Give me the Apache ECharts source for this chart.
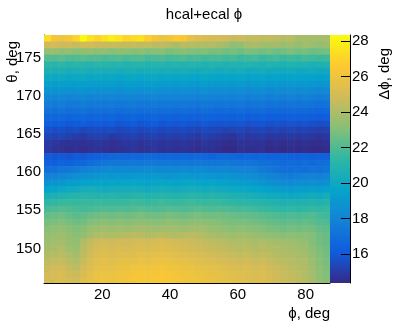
<!DOCTYPE html>
<html>
<head>
<meta charset="utf-8">
<script src="https://cdn.jsdelivr.net/npm/echarts@6/dist/echarts.min.js"></script>
<style>
html,body{margin:0;padding:0;background:#fff;}
#c{width:396px;height:322px;}
</style>
</head>
<body>
<div id="c"></div>
<script>
// ---- data ----
const chartTitle = 'hcal+ecal ϕ';
const xTitle = 'ϕ, deg';
const yTitle = 'θ, deg';
const zTitle = 'Δϕ, deg';
const phiMin = 2.8125, phiMax = 87.1875, phiBins = 40;
const thetaTop = 178.0, thetaStep = 0.8611, thetaMin = 145.46;
const zMin = 14.37, zMax = 28.34;
const xMajorTicks = [20, 40, 60, 80];
const xMinorTicks = [5, 10, 15, 25, 30, 35, 45, 50, 55, 65, 70, 75, 85];
const yMajorTicks = [150, 155, 160, 165, 170, 175];
const yMinorTicks = [146,147,148,149,151,152,153,154,156,157,158,159,161,162,163,164,166,167,168,169,171,172,173,174,176,177];
const zTicks = [16, 18, 20, 22, 24, 26, 28];
// rows of delta-phi values, from the top theta row (178) downwards; 40 phi bins each
const deltaPhi = [
[27.3,26.2,26.0,26.3,27.0,28.3,27.4,27.0,27.5,27.9,27.6,27.0,27.2,27.4,26.8,26.2,25.9,26.0,26.6,26.4,25.6,25.3,25.1,25.0,25.0,24.8,24.6,24.7,24.5,24.6,24.4,24.5,24.3,24.2,24.3,23.9,23.8,23.9,23.8,23.9],
[24.8,24.9,24.7,24.8,24.6,24.9,24.8,24.7,24.6,24.7,24.6,24.5,24.6,24.4,24.5,24.3,24.4,24.2,23.9,24.3,24.2,24.1,24.0,24.1,23.9,23.7,23.3,23.4,23.8,23.9,23.7,23.6,23.8,23.5,23.6,23.4,23.7,23.5,23.4,23.5],
[23.4,23.5,23.3,23.4,23.2,23.3,23.4,23.2,23.3,23.1,23.2,23.3,23.1,23.2,23.0,23.1,23.2,22.9,23.0,23.1,23.0,22.9,23.0,22.8,22.9,22.7,22.8,22.6,22.9,22.8,22.7,22.8,22.6,22.7,22.9,22.7,22.8,22.6,22.7,22.8],
[22.2,22.1,22.3,22.0,22.1,22.2,22.0,22.1,21.9,22.0,22.1,21.9,22.0,22.1,21.8,21.9,22.0,21.8,21.9,22.0,21.8,21.9,21.7,21.8,21.9,21.7,21.8,21.6,21.7,21.8,21.6,21.7,21.8,21.6,21.7,21.6,21.8,21.7,21.6,21.7],
[21.2,21.1,21.3,21.0,21.2,21.1,21.0,21.2,21.1,21.0,21.1,20.9,21.0,21.1,20.9,21.0,21.1,20.9,21.0,20.9,21.0,20.9,20.8,21.0,20.9,20.8,20.9,20.8,20.9,20.8,20.7,20.9,20.8,20.7,20.8,20.7,20.8,20.6,20.7,20.8],
[20.6,20.5,20.6,20.4,20.5,20.6,20.4,20.5,20.4,20.5,20.3,20.4,20.5,20.3,20.4,20.5,20.3,20.4,20.3,20.4,20.3,20.2,20.4,20.3,20.2,20.3,20.2,20.3,20.1,20.2,20.3,20.1,20.2,20.1,20.2,20.0,20.1,20.2,20.0,20.1],
[20.0,19.9,20.0,19.8,19.9,20.0,19.8,19.9,19.8,19.9,19.7,19.8,19.9,19.7,19.8,19.9,19.7,19.8,19.7,19.8,19.7,19.6,19.8,19.7,19.6,19.7,19.6,19.7,19.5,19.6,19.7,19.5,19.6,19.5,19.6,19.5,19.6,19.5,19.4,19.5],
[19.4,19.3,19.4,19.2,19.3,19.4,19.2,19.3,19.2,19.3,19.1,19.2,19.3,19.1,19.2,19.3,19.1,19.2,19.1,19.2,19.1,19.0,19.2,19.1,19.0,19.1,19.0,19.1,18.9,19.0,19.1,18.9,19.0,18.9,19.0,18.9,19.0,18.9,18.8,18.9],
[18.8,18.7,18.8,18.6,18.7,18.8,18.6,18.7,18.6,18.7,18.5,18.6,18.7,18.5,18.6,18.7,18.5,18.6,18.5,18.6,18.5,18.4,18.6,18.5,18.4,18.5,18.4,18.5,18.3,18.4,18.5,18.3,18.4,18.3,18.4,18.3,18.4,18.3,18.2,18.3],
[18.2,18.1,18.2,18.0,18.1,18.2,18.0,18.1,18.0,18.1,17.9,18.0,18.1,17.9,18.0,18.1,17.9,18.0,17.9,18.0,17.9,17.8,18.0,17.9,17.8,17.9,17.8,17.9,17.7,17.8,17.9,17.7,17.8,17.7,17.8,17.7,17.8,17.7,17.6,17.7],
[17.7,17.6,17.7,17.5,17.6,17.7,17.5,17.6,17.5,17.6,17.4,17.5,17.6,17.4,17.5,17.6,17.4,17.5,17.4,17.5,17.4,17.3,17.5,17.4,17.3,17.4,17.3,17.4,17.2,17.3,17.4,17.2,17.3,17.2,17.3,17.2,17.3,17.2,17.1,17.2],
[17.2,17.1,17.2,17.0,17.1,17.2,17.0,17.1,17.0,17.1,16.9,17.0,17.1,16.9,17.0,17.1,16.9,17.0,16.9,17.0,16.9,16.8,17.0,16.9,16.8,16.9,16.8,16.9,16.7,16.8,16.9,16.7,16.8,16.7,16.8,16.7,16.8,16.7,16.6,16.7],
[16.7,16.6,16.7,16.5,16.6,16.7,16.5,16.6,16.5,16.6,16.4,16.5,16.6,16.4,16.5,16.6,16.4,16.5,16.4,16.5,16.4,16.3,16.5,16.4,16.3,16.4,16.3,16.4,16.2,16.3,16.4,16.2,16.3,16.2,16.3,16.2,16.3,16.2,16.1,16.2],
[16.2,16.1,16.2,16.0,16.1,16.2,16.0,16.1,16.0,16.1,15.9,16.0,16.1,15.9,16.0,16.1,15.9,16.0,15.9,16.0,15.9,15.8,16.0,15.9,15.8,15.9,15.8,15.9,15.7,15.8,15.9,15.7,15.8,15.7,15.8,15.7,15.8,15.7,15.6,15.7],
[15.7,15.6,15.7,15.5,15.6,15.4,15.5,15.6,15.5,15.6,15.4,15.5,15.6,15.4,15.5,15.6,15.4,15.5,15.4,15.5,15.4,15.3,15.5,15.4,15.3,15.2,15.3,15.4,15.2,15.3,15.4,15.2,15.3,15.2,15.3,15.2,15.3,15.2,15.1,15.2],
[15.3,15.2,15.3,15.1,15.0,14.9,15.1,15.2,15.1,14.9,15.0,15.1,15.2,15.0,15.1,15.2,15.0,15.1,15.0,15.1,15.0,14.9,15.1,15.0,14.9,14.8,14.7,15.0,14.8,14.9,15.0,14.8,14.9,14.8,14.9,14.8,14.9,14.8,14.7,14.8],
[14.9,14.8,14.7,14.6,14.7,14.6,14.7,14.8,14.7,14.6,14.7,14.8,14.9,14.7,14.8,14.9,14.7,14.8,14.7,14.8,14.7,14.6,14.8,14.7,14.6,14.5,14.5,14.7,14.6,14.6,14.7,14.5,14.6,14.5,14.6,14.5,14.6,14.5,14.5,14.6],
[14.8,14.7,14.6,14.5,14.6,14.5,14.6,14.7,14.6,14.5,14.6,14.7,14.8,14.6,14.7,14.8,14.6,14.7,14.6,14.7,14.6,14.5,14.7,14.6,14.5,14.4,14.4,14.6,14.5,14.5,14.6,14.4,14.5,14.4,14.5,14.4,14.5,14.4,14.4,14.5],
[16.0,15.9,16.0,15.9,16.1,16.0,16.2,16.3,16.5,16.6,16.7,16.6,16.7,16.6,16.8,16.7,16.6,16.7,16.6,16.7,16.6,16.7,16.6,16.5,16.6,16.7,16.6,16.5,16.6,16.5,16.6,16.5,16.4,16.5,16.4,16.3,16.4,16.3,16.4,16.3],
[16.4,16.3,16.5,16.4,16.6,16.7,16.9,17.1,17.3,17.4,17.5,17.4,17.5,17.4,17.6,17.5,17.4,17.5,17.4,17.5,17.4,17.5,17.4,17.3,17.4,17.5,17.3,17.2,17.3,17.2,17.1,17.0,16.9,16.8,16.9,16.8,16.9,16.8,16.9,17.0],
[17.0,17.1,17.3,17.4,17.6,17.8,18.0,18.1,18.2,18.3,18.2,18.3,18.2,18.3,18.4,18.3,18.2,18.3,18.2,18.3,18.2,18.3,18.2,18.1,18.2,18.1,18.0,17.9,17.9,17.8,17.6,17.4,17.2,17.1,17.0,17.1,17.0,17.2,17.1,17.3],
[17.8,17.9,18.1,18.3,18.5,18.7,18.8,18.9,19.0,18.9,19.0,18.9,19.0,19.1,19.0,19.1,19.0,18.9,19.0,19.1,19.0,18.9,19.0,18.9,18.8,18.9,18.7,18.6,18.5,18.4,18.2,18.0,17.8,17.7,17.6,17.7,17.8,17.9,17.8,18.0],
[18.7,18.8,19.0,19.2,19.3,19.5,19.6,19.7,19.6,19.7,19.6,19.7,19.8,19.7,19.6,19.7,19.8,19.7,19.6,19.7,19.8,19.7,19.6,19.7,19.6,19.5,19.4,19.3,19.2,19.1,18.9,18.7,18.5,18.4,18.3,18.4,18.5,18.6,18.5,18.7],
[19.6,19.7,19.9,20.1,20.2,20.3,20.4,20.3,20.2,20.3,20.4,20.3,20.4,20.3,20.2,20.3,20.4,20.3,20.2,20.3,20.4,20.3,20.2,20.3,20.2,20.1,20.0,19.9,19.8,19.7,19.6,19.5,19.3,19.2,19.1,19.2,19.3,19.4,19.3,19.5],
[20.5,20.6,20.8,20.9,21.0,21.1,21.0,20.9,21.0,21.1,21.0,20.9,21.0,21.1,20.9,21.0,21.1,21.0,20.9,21.0,21.1,21.0,20.9,21.0,20.9,20.8,20.7,20.6,20.5,20.4,20.3,20.2,20.1,20.0,19.9,20.0,20.1,20.2,20.1,20.3],
[21.3,21.4,21.5,21.6,21.5,21.6,21.5,21.6,21.5,21.6,21.5,21.6,21.7,21.6,21.5,21.6,21.7,21.6,21.5,21.6,21.7,21.6,21.5,21.6,21.5,21.4,21.3,21.2,21.2,21.1,21.0,20.9,20.8,20.7,20.8,20.7,20.8,20.9,20.8,21.0],
[21.9,22.0,22.1,22.0,21.9,21.8,21.9,22.0,22.1,22.0,22.1,22.0,22.1,22.2,22.1,22.0,22.1,22.2,22.1,22.0,22.1,22.2,22.1,22.0,22.1,22.0,21.9,21.8,21.8,21.7,21.6,21.5,21.4,21.3,21.4,21.3,21.4,21.5,21.4,21.5],
[22.4,22.5,22.6,22.4,22.2,22.3,22.5,22.6,22.7,22.6,22.7,22.6,22.7,22.8,22.7,22.6,22.7,22.8,22.7,22.6,22.7,22.8,22.7,22.6,22.7,22.6,22.5,22.4,22.4,22.3,22.2,22.1,22.0,21.9,22.0,21.9,22.0,22.1,21.8,21.7],
[22.8,22.9,23.0,22.8,22.6,22.7,23.0,23.1,23.2,23.1,23.2,23.1,23.2,23.3,23.2,23.1,23.2,23.3,23.2,23.1,23.2,23.3,23.2,23.1,23.0,22.9,22.8,22.9,22.8,22.7,22.6,22.5,22.4,22.3,22.4,22.3,22.4,22.3,22.1,22.0],
[23.2,23.3,23.4,23.2,23.0,23.1,23.5,23.6,23.7,23.6,23.7,23.6,23.7,23.8,23.7,23.6,23.7,23.8,23.7,23.6,23.7,23.8,23.7,23.5,23.4,23.3,23.2,23.3,23.2,23.1,23.0,22.9,22.8,22.7,22.8,22.7,22.8,22.7,22.4,22.3],
[23.4,23.5,23.6,23.4,23.2,23.3,23.8,24.0,24.1,24.0,24.1,24.2,24.3,24.2,24.1,24.2,24.3,24.2,24.1,24.2,24.3,24.2,24.0,23.9,23.8,23.7,23.6,23.7,23.6,23.5,23.4,23.3,23.2,23.1,23.2,23.1,23.2,23.0,22.7,22.5],
[23.6,23.7,23.8,23.5,23.4,24.1,24.5,24.8,24.9,24.8,24.9,24.8,24.9,25.0,24.9,25.0,25.1,25.0,24.9,24.8,24.7,24.6,24.5,24.4,24.3,24.2,24.1,24.0,24.1,23.9,24.0,23.9,23.8,23.7,23.6,23.5,23.4,23.0,22.7,22.5],
[23.8,23.9,24.0,23.7,23.5,24.2,24.7,25.0,25.1,25.0,25.1,25.0,25.1,25.2,25.1,25.2,25.3,25.2,25.1,25.0,24.9,24.8,24.7,24.6,24.5,24.4,24.3,24.2,24.3,24.1,24.2,24.1,24.0,23.9,23.8,23.7,23.6,23.2,22.9,22.6],
[24.1,24.2,24.3,24.0,23.8,24.4,24.9,25.2,25.3,25.2,25.3,25.4,25.3,25.5,25.4,25.5,25.6,25.5,25.4,25.3,25.2,25.1,25.0,24.9,24.8,24.7,24.6,24.5,24.6,24.4,24.5,24.4,24.2,24.1,24.0,23.9,23.8,23.4,23.0,22.7],
[24.4,24.5,24.6,24.3,24.1,24.6,25.1,25.4,25.5,25.4,25.6,25.7,25.6,25.8,25.7,25.8,25.9,25.8,25.7,25.6,25.5,25.4,25.3,25.2,25.1,25.0,24.9,24.8,24.9,24.7,24.8,24.6,24.4,24.3,24.2,24.1,24.0,23.6,23.1,22.8],
[24.7,24.8,24.9,24.6,24.4,24.9,25.3,25.6,25.7,25.6,25.8,25.9,26.0,26.1,26.0,26.1,26.2,26.1,26.0,25.9,25.8,25.7,25.6,25.5,25.4,25.3,25.2,25.1,25.2,25.0,25.1,24.9,24.7,24.5,24.4,24.2,24.1,23.7,23.2,22.9],
[24.9,25.0,25.1,24.8,24.7,25.1,25.5,25.8,25.9,25.8,26.0,26.1,26.2,26.3,26.2,26.3,26.4,26.3,26.2,26.1,26.0,25.9,25.8,25.7,25.6,25.5,25.4,25.3,25.2,25.1,25.2,25.0,24.8,24.6,24.5,24.3,24.1,23.8,23.3,23.0],
[25.0,25.1,25.2,25.0,24.9,25.3,25.6,25.9,26.0,25.9,26.1,26.2,26.3,26.4,26.3,26.4,26.5,26.4,26.3,26.2,26.1,26.0,25.9,25.8,25.7,25.6,25.5,25.4,25.3,25.2,25.3,25.1,24.9,24.7,24.6,24.4,24.2,23.9,23.4,23.1]
];
// ROOT kBird palette
const palette = ['#352a87','#0f5cdd','#1481d6','#06a4ca','#2eb7a4','#87bf77','#d1bb59','#fec832','#f9fb0e'];

// ---- build cells ----
const phiStep = (phiMax - phiMin) / phiBins;
const cells = [];
deltaPhi.forEach((row, k) => {
  const yHi = thetaTop - k * thetaStep;
  const yLo = Math.max(thetaMin, yHi - thetaStep);
  row.forEach((v, j) => {
    const xLo = phiMin + j * phiStep;
    cells.push([xLo, xLo + phiStep, yLo, yHi, v]);
  });
});

const FONT = '"Liberation Sans", Arial, Helvetica, sans-serif';
const FS = 15;
const GL = 44, GT = 35, GW = 286, GH = 248;
const CBL = 330, CBW = 20;

const chart = echarts.init(document.getElementById('c'), null, {renderer: 'canvas'});
const lineStyle = {color: '#000', width: 1};
const option = {
  animation: false,
  backgroundColor: '#fff',
  textStyle: {fontFamily: FONT},
  grid: [
    {left: GL, top: GT, width: GW, height: GH, containLabel: false},
    {left: CBL, top: GT, width: CBW, height: GH, containLabel: false}
  ],
  visualMap: {
    show: false, type: 'continuous', min: zMin, max: zMax, dimension: 4,
    seriesIndex: 0, inRange: {color: palette}
  },
  xAxis: [
    {type: 'value', gridIndex: 0, min: phiMin, max: phiMax, position: 'bottom',
     axisLine: {show: true, lineStyle: lineStyle, onZero: false},
     axisTick: {show: true, inside: true, length: 7, lineStyle: lineStyle, customValues: xMajorTicks},
     axisLabel: {show: true, color: '#000', fontSize: FS, fontFamily: FONT, margin: 4, customValues: xMajorTicks},
     splitLine: {show: false}},
    {type: 'value', gridIndex: 0, min: phiMin, max: phiMax, position: 'bottom',
     axisLine: {show: false, onZero: false},
     axisTick: {show: true, inside: true, length: 3.5, lineStyle: lineStyle, customValues: xMinorTicks},
     axisLabel: {show: false}, splitLine: {show: false}},
    {type: 'value', gridIndex: 1, min: 0, max: 1, show: false}
  ],
  yAxis: [
    {type: 'value', gridIndex: 0, min: thetaMin, max: thetaTop, position: 'left',
     axisLine: {show: true, lineStyle: lineStyle, onZero: false},
     axisTick: {show: true, inside: true, length: 8, lineStyle: lineStyle, customValues: yMajorTicks},
     axisLabel: {show: true, color: '#000', fontSize: FS, fontFamily: FONT, margin: 3, customValues: yMajorTicks},
     splitLine: {show: false}},
    {type: 'value', gridIndex: 0, min: thetaMin, max: thetaTop, position: 'left',
     axisLine: {show: false, onZero: false},
     axisTick: {show: true, inside: true, length: 4, lineStyle: lineStyle, customValues: yMinorTicks},
     axisLabel: {show: false}, splitLine: {show: false}},
    {type: 'value', gridIndex: 1, min: zMin, max: zMax, position: 'right',
     axisLine: {show: true, lineStyle: lineStyle, onZero: false},
     axisTick: {show: true, inside: true, length: 9, lineStyle: lineStyle, customValues: zTicks},
     axisLabel: {show: true, color: '#000', fontSize: FS, fontFamily: FONT, margin: 2, customValues: zTicks},
     splitLine: {show: false}, z: 5}
  ],
  graphic: [
    {type: 'rect', z: 1, shape: {x: CBL, y: GT, width: CBW, height: GH},
     style: {fill: new echarts.graphic.LinearGradient(0, 1, 0, 0,
       palette.map((c, i) => ({offset: i / (palette.length - 1), color: c})))}},
    {type: 'text', x: 204, y: 15, style: {text: chartTitle, font: FS + 'px ' + FONT, fill: '#000', align: 'center', verticalAlign: 'middle'}},
    {type: 'text', x: 330, y: 314, style: {text: xTitle, font: FS + 'px ' + FONT, fill: '#000', align: 'right', verticalAlign: 'middle'}},
    {type: 'text', x: 13, y: 41, rotation: Math.PI / 2, style: {text: yTitle, font: FS + 'px ' + FONT, fill: '#000', align: 'right', verticalAlign: 'middle'}},
    {type: 'text', x: 385, y: 48, rotation: Math.PI / 2, style: {text: zTitle, font: FS + 'px ' + FONT, fill: '#000', align: 'right', verticalAlign: 'middle'}}
  ],
  series: [{
    type: 'custom',
    xAxisIndex: 0, yAxisIndex: 0,
    encode: {x: [0, 1], y: [2, 3]},
    clip: true,
    data: cells,
    renderItem: function (params, api) {
      const p0 = api.coord([api.value(0), api.value(3)]);
      const p1 = api.coord([api.value(1), api.value(2)]);
      return {
        type: 'rect',
        shape: {x: p0[0], y: p0[1], width: p1[0] - p0[0] + 0.6, height: p1[1] - p0[1] + 0.6},
        style: {fill: api.visual('color'), stroke: null}
      };
    }
  }]
};
chart.setOption(option);
</script>
</body>
</html>
